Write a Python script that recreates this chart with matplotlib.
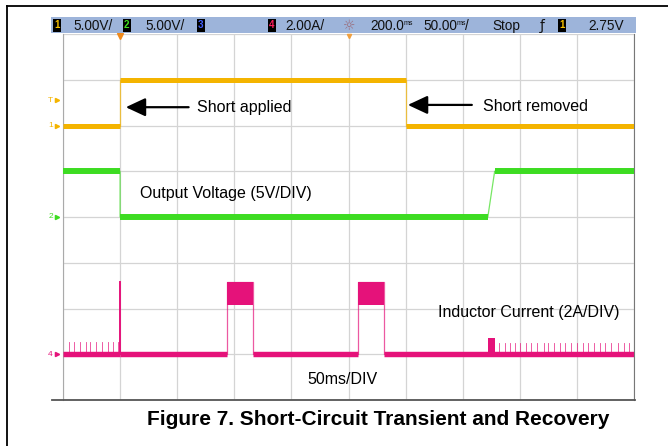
import matplotlib
matplotlib.use('Agg')
import matplotlib.pyplot as plt
from matplotlib.lines import Line2D

plt.rcParams['font.family'] = ['Liberation Sans', 'DejaVu Sans']

# ---------------- data ----------------
ms_per_div = 50
n_hdiv = 10
n_vdiv = 8

# Channel 1: short control (V)
ch1_scale = 5.0      # V/div
ch1_offset = 6.0     # ground position (div)
ch1_t = [0, 50, 50, 300, 300, 500]
ch1_v = [0, 0, 5, 5, 0, 0]
trig_level = 2.75    # V

# Channel 2: output voltage (V)
ch2_scale = 5.0
ch2_offset = 4.0
ch2_t = [0, 50, 50, 372, 378, 500]
ch2_v = [5, 5, 0, 0, 5, 5]

# Channel 4: inductor current (A)
ch4_scale = 2.0
ch4_offset = 1.0
ch4_t = [0, 50, 144, 144, 166, 166, 258, 258, 281, 281, 500]
ch4_i = [0, 0, 0, 3.15, 3.15, 0, 0, 3.15, 3.15, 0, 0]
ch4_spike_t = [50]
ch4_spike_i = [3.15]
ch4_pulse_start = [144, 258]
ch4_pulse_end = [166, 281]
ch4_pulse_low = 2.14
ch4_pulse_high = 3.15
ch4_bump_t = [372, 378]
ch4_bump_i = 0.70
ch4_ripple_pre_t = [5, 10, 15, 20, 24, 29, 34, 39, 44, 48]
ch4_ripple_pre_i = 0.52
ch4_ripple_post_t = [382, 387, 391, 396, 400, 405, 410, 415, 421, 425, 430, 435,
                     440, 445, 450, 455, 460, 465, 470, 475, 480, 486, 491, 496]
ch4_ripple_post_i = 0.48

header_labels = ['5.00V/', '5.00V/', '2.00A/', '200.0', '50.00', 'Stop', '2.75V']

# ---------------- style ----------------
YEL = '#f4b400'
GRN = '#3ddc22'
PNK = '#e5127a'
HDR = '#9db4da'
GRID = '#d4d4d4'

W, H = 668, 446
fig = plt.figure(figsize=(W / 100, H / 100), dpi=100)
fig.patch.set_facecolor('white')

# outer frame (top and left)
fig.add_artist(Line2D([7 / W, 1], [1 - 6 / H, 1 - 6 / H], color='black', lw=1.3,
                      transform=fig.transFigure))
fig.add_artist(Line2D([7 / W, 7 / W], [0, 1 - 6 / H], color='black', lw=1.3,
                      transform=fig.transFigure))

# scope screen
ax = fig.add_axes([63 / W, (H - 400) / H, 571 / W, 366 / H])
ax.set_xlim(0, ms_per_div * n_hdiv)
ax.set_ylim(0, n_vdiv)
ax.set_xticks([])
ax.set_yticks([])
for k in range(n_hdiv + 1):
    ax.axvline(k * ms_per_div, color=GRID, lw=0.9, zorder=0)
for k in range(n_vdiv + 1):
    ax.axhline(k, color=GRID, lw=0.9, zorder=0)
ax.spines['top'].set_visible(False)
ax.spines['left'].set_color('#aaaaaa')
ax.spines['right'].set_color('#777777')
ax.spines['bottom'].set_visible(False)
ax.plot([-9.6, 501], [0, 0], color='#555555', lw=1.3, clip_on=False, zorder=5)


def draw_trace(t, v, scale, offset, color, thick, thin=0.9, only_level=None):
    y = [offset + vv / scale for vv in v]
    ax.plot(t, y, color=color, lw=thin, alpha=0.7, zorder=2)
    for i in range(len(t) - 1):
        if v[i] == v[i + 1] and t[i + 1] > t[i]:
            if only_level is not None and v[i] != only_level:
                continue
            ax.plot([t[i], t[i + 1]], [y[i], y[i + 1]], color=color, lw=thick,
                    solid_capstyle='butt', zorder=3)


draw_trace(ch1_t, ch1_v, ch1_scale, ch1_offset, YEL, 3.6)
draw_trace(ch2_t, ch2_v, ch2_scale, ch2_offset, GRN, 4.3)
draw_trace(ch4_t, ch4_i, ch4_scale, ch4_offset, PNK, 3.9, only_level=0)

# current details
for ts, isp in zip(ch4_spike_t, ch4_spike_i):
    ax.plot([ts, ts], [ch4_offset, ch4_offset + isp / ch4_scale], color=PNK, lw=1.4, zorder=3)
for a, b in zip(ch4_pulse_start, ch4_pulse_end):
    ax.fill_between([a, b], ch4_offset + ch4_pulse_low / ch4_scale,
                    ch4_offset + ch4_pulse_high / ch4_scale, color=PNK, lw=0, zorder=3)
ax.fill_between(ch4_bump_t, ch4_offset, ch4_offset + ch4_bump_i / ch4_scale,
                color=PNK, lw=0, zorder=3)
for ts in ch4_ripple_pre_t:
    ax.plot([ts, ts], [ch4_offset, ch4_offset + ch4_ripple_pre_i / ch4_scale],
            color=PNK, lw=0.6, alpha=0.8, zorder=3)
for ts in ch4_ripple_post_t:
    ax.plot([ts, ts], [ch4_offset, ch4_offset + ch4_ripple_post_i / ch4_scale],
            color=PNK, lw=0.6, alpha=0.8, zorder=3)

# channel ground markers on left
def marker(label, level, color):
    ax.text(-11, level, label, color=color, fontsize=6, ha='center', va='center',
            clip_on=False)
    ax.plot([-5.5], [level], marker='>', color=color, ms=3, clip_on=False)

marker('1', ch1_offset, YEL)
marker('T', ch1_offset + trig_level / ch1_scale, YEL)
marker('2', ch2_offset, GRN)
marker('4', ch4_offset, PNK)

# trigger position / time reference markers
ax.plot([50], [n_vdiv - 0.05], marker='v', color='#f08a1c', ms=5, clip_on=False, zorder=6)
ax.plot([250], [n_vdiv - 0.05], marker='v', color='#f0a040', ms=3, clip_on=False, zorder=6)

# annotations
FS = 11.5
arrow = dict(arrowstyle='-|>,head_length=0.6,head_width=0.28', mutation_scale=20,
             lw=1.6, color='black', shrinkA=0, shrinkB=0)
ax.annotate('', xy=(55, 6.40), xytext=(110, 6.40), arrowprops=arrow, zorder=6)
ax.text(117, 6.29, 'Short applied', fontsize=FS, va='baseline', ha='left')
ax.annotate('', xy=(302, 6.45), xytext=(358, 6.45), arrowprops=arrow, zorder=6)
ax.text(368, 6.32, 'Short removed', fontsize=FS, va='baseline', ha='left')
ax.text(67, 4.42, 'Output Voltage (5V/DIV)', fontsize=FS, va='baseline', ha='left')
ax.text(328, 1.81, 'Inductor Current (2A/DIV)', fontsize=FS, va='baseline', ha='left')
ax.text(214, 0.36, '50ms/DIV', fontsize=FS, va='baseline', ha='left')

# header bar
hx = fig.add_axes([51 / W, (H - 33) / H, 585 / W, 16 / H])
hx.set_xlim(51, 636)
hx.set_ylim(0, 1)
hx.set_facecolor(HDR)
hx.set_xticks([])
hx.set_yticks([])
for s in hx.spines.values():
    s.set_visible(False)
HF = ['Liberation Sans', 'DejaVu Sans']
HFS = 9.8


def hbox(x, d, c):
    hx.text(x, 0.48, d, color=c, fontsize=7, fontweight='bold', ha='left', va='center',
            family=HF, bbox=dict(facecolor='black', edgecolor='none', pad=0.9))


def htext(x, s, fs=HFS):
    hx.text(x, 0.45, s, color='#111111', fontsize=fs, ha='left', va='center', family=HF)


hbox(54, '1', '#f6c000')
htext(73, header_labels[0])
hbox(124, '2', '#40e020')
htext(145, header_labels[1])
hbox(198, '3', '#4060ff')
hbox(269, '4', '#ff2060')
htext(285, header_labels[2])
hx.text(349, 0.45, '☼', color='#9a6a78', fontsize=10, ha='center', va='center',
        family='DejaVu Sans')
htext(370, header_labels[3])
hx.text(404, 0.62, 'ms', color='#111111', fontsize=5, ha='left', va='center', family=HF)
htext(423, header_labels[4])
hx.text(457, 0.62, 'ms', color='#111111', fontsize=5, ha='left', va='center', family=HF)
htext(465, '/')
htext(492, header_labels[5])
hx.text(540, 0.45, 'ƒ', color='#111111', fontsize=HFS, ha='left', va='center',
        family='DejaVu Sans')
hbox(559, '1', '#f6c000')
htext(588, header_labels[6])

# caption
fig.text(378 / W, (H - 425) / H, 'Figure 7. Short-Circuit Transient and Recovery',
         fontsize=15, fontweight='bold', ha='center', va='baseline')

fig.savefig('out.png', dpi=100)
